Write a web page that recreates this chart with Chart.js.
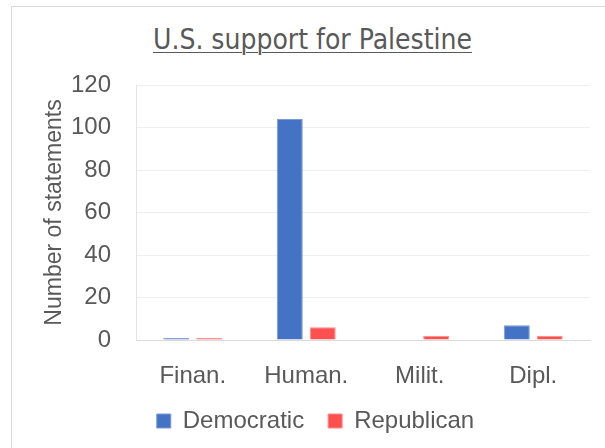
<!DOCTYPE html>
<html>
<head>
<meta charset="utf-8">
<title>U.S. support for Palestine</title>
<script src="https://cdn.jsdelivr.net/npm/chart.js@4/dist/chart.umd.min.js"></script>
<style>
    html, body {
        margin: 0;
        padding: 0;
        background: #ffffff;
        overflow: hidden;
    }
    .chart-box {
        position: absolute;
        left: 11px;
        top: 6px;
        width: 700px;
        height: 600px;
        border: 1px solid #d9d9d9;
    }
    .chart-title {
        position: absolute;
        left: 10px;
        top: 23px;
        width: 605px;
        text-align: center;
        font-family: 'Liberation Sans Narrow', 'DejaVu Sans Condensed', sans-serif;
        font-size: 28px;
        color: #595959;
        text-decoration: underline;
        text-underline-offset: 3px;
        text-decoration-thickness: 1px;
    }
    .chart-wrap {
        position: absolute;
        left: 0;
        top: 0;
        width: 605px;
        height: 448px;
    }
</style>
</head>
<body>
<div class="chart-box"></div>
<div class="chart-title">U.S. support for Palestine</div>
<div class="chart-wrap"><canvas id="supportChart"></canvas></div>

<script>
// Data
const categories = ['Finan.', 'Human.', 'Milit.', 'Dipl.'];
const democraticValues = [1, 104, 0, 7];
const republicanValues = [1, 6, 2, 2];
const yTickLabels = [0, 20, 40, 60, 80, 100, 120];

const textColor = '#595959';
const fontFamily = "'Liberation Sans', Arial, sans-serif";

// Legend padding is used both between items and above them,
// so pull the legend up a little after layout to keep the wide item gap
const legendShift = {
    id: 'legendShift',
    afterLayout: function(chart) {
        chart.legend.top -= 9;
        chart.legend.bottom -= 9;
    }
};

function initSupportChart() {
    const ctx = document.getElementById('supportChart').getContext('2d');

    new Chart(ctx, {
        type: 'bar',
        data: {
            labels: categories,
            datasets: [{
                label: 'Democratic',
                data: democraticValues,
                backgroundColor: '#4472c4',
                borderColor: '#7b9ad6',
                borderWidth: 1,
                barPercentage: 0.79,
                categoryPercentage: 0.58
            }, {
                label: 'Republican',
                data: republicanValues,
                backgroundColor: '#ff5050',
                borderColor: '#ff8a8a',
                borderWidth: 1,
                barPercentage: 0.79,
                categoryPercentage: 0.58
            }]
        },
        plugins: [legendShift],
        options: {
            responsive: true,
            maintainAspectRatio: false,
            animation: false,
            layout: {
                padding: { left: 41, right: 15, top: 85, bottom: -4 }
            },
            plugins: {
                title: { display: false },
                tooltip: { enabled: false },
                legend: {
                    display: true,
                    position: 'bottom',
                    labels: {
                        boxWidth: 14,
                        boxHeight: 14,
                        padding: 24,
                        color: textColor,
                        font: { family: fontFamily, size: 24 }
                    }
                }
            },
            scales: {
                y: {
                    min: 0,
                    max: 120,
                    // keep the axis box a fixed width so the plot starts where it should
                    afterFit: function(axis) {
                        axis.width = 95;
                    },
                    ticks: {
                        stepSize: 10,
                        padding: 25,
                        color: textColor,
                        font: { family: fontFamily, size: 24 },
                        // gridlines every 10, labels every 20
                        callback: function(value) {
                            return yTickLabels.includes(value) ? String(value) : '';
                        }
                    },
                    grid: {
                        color: '#eeeeee',
                        drawTicks: false
                    },
                    border: {
                        display: true,
                        color: '#e3e3e3'
                    },
                    title: {
                        display: true,
                        text: 'Number of statements',
                        color: textColor,
                        padding: 0,
                        font: { family: fontFamily, size: 23 }
                    }
                },
                x: {
                    afterFit: function(axis) {
                        axis.height = 54;
                    },
                    ticks: {
                        padding: 22,
                        color: textColor,
                        font: { family: fontFamily, size: 24 }
                    },
                    grid: {
                        display: false,
                        drawTicks: false
                    },
                    border: {
                        display: true,
                        color: '#d9d9d9'
                    }
                }
            }
        }
    });
}

document.addEventListener('DOMContentLoaded', function() {
    initSupportChart();
});
</script>
</body>
</html>
